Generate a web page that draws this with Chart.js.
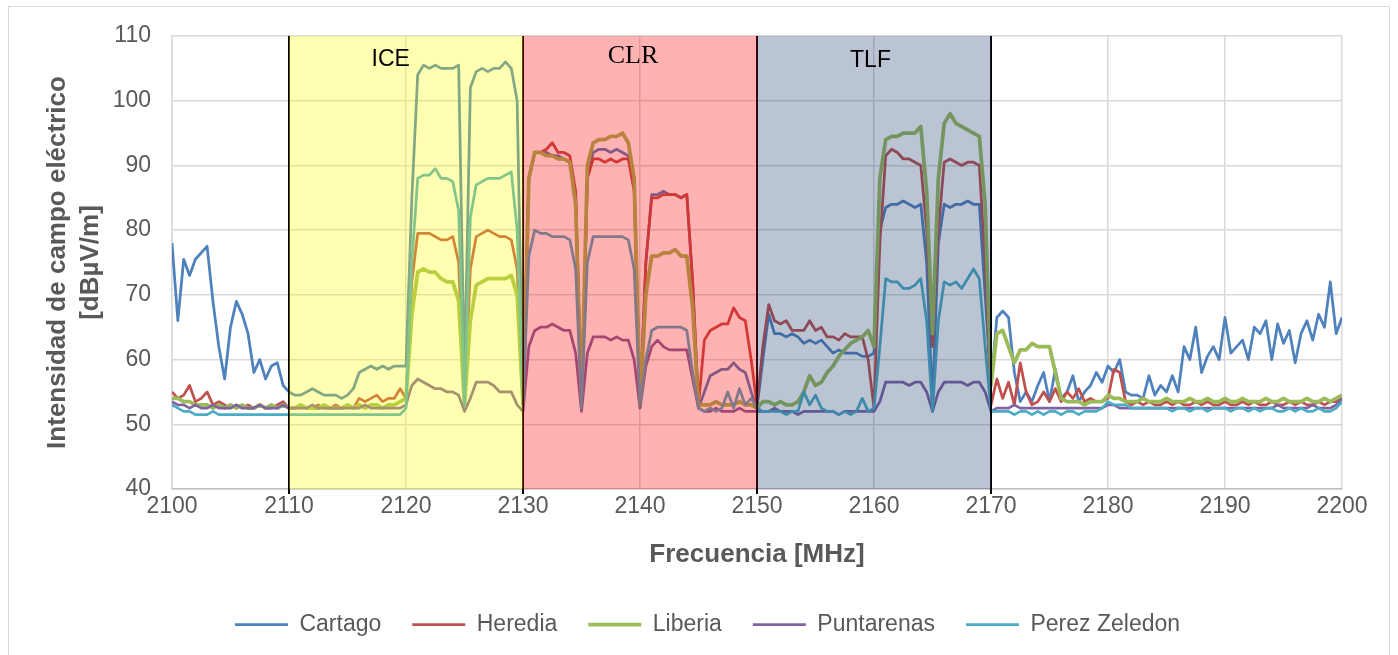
<!DOCTYPE html>
<html>
<head>
<meta charset="utf-8">
<script src="https://cdn.jsdelivr.net/npm/chart.js@4.4.1/dist/chart.umd.min.js"></script>
<style>
  html, body { margin: 0; padding: 0; background: #fff; }
  canvas { display: block; }
</style>
</head>
<body>
<canvas id="espectro" width="1398" height="655"></canvas>
<script>
// frecuencias: 2100 -> 2200 MHz, paso 0.5 MHz
const freqStart = 2100;
const freqStep = 0.5;

const cartago = [
  78, 66, 75.5, 73, 75.5, 76.5, 77.5, 69, 62, 57, 65, 69, 67, 64, 58, 60, 57, 59, 59.5, 56,
  55, 54.5, 54.5, 55, 55.5, 55, 54.5, 54.5, 54.5, 54, 54.5, 55.5, 58, 58.5, 59, 58.5, 59, 58.5, 59, 59,
  59, 85, 104, 105.5, 105, 105.5, 105, 105, 105, 105.5, 57, 102, 104.5, 105, 104.5, 105, 105, 106, 105, 100,
  53, 88, 92, 92, 92, 91.5, 91.5, 91, 90.5, 85, 53, 88, 92, 92.5, 92.5, 92, 92.5, 92, 91.5, 88,
  53, 75, 85.5, 85.5, 86, 85.5, 85.5, 85, 85.5, 72, 52.5, 55, 57.5, 58, 58.5, 58.5, 59.5, 58.5, 58, 55,
  52.5, 60, 67, 64, 64, 63.5, 64, 63.5, 62.5, 63, 62.5, 63, 62, 61, 61.5, 61, 61, 61, 60.5, 60.5,
  61, 80, 83.5, 84, 84, 84.5, 84, 83.5, 84, 75, 53, 78, 84, 83.5, 84, 84, 84.5, 84, 84, 70,
  56, 66.5, 67.5, 66.5, 58, 53.5, 55, 53.5, 56, 58, 53.5, 58.5, 54, 55, 57.5, 53.5, 55, 56, 58, 56.5,
  59, 58, 60, 55, 54.5, 54.5, 54, 57.5, 54.5, 56, 55, 57.5, 55, 62, 60, 65, 58, 60.5, 62, 60,
  66.5, 61, 62, 63, 60, 65, 64, 66, 60, 65.5, 62.5, 64.5, 59.5, 64, 66, 63, 67, 65, 72, 64,
  66.5
];
const heredia = [
  55, 54, 54.5, 56, 53.5, 54, 55, 53, 53.5, 53, 52.5, 53, 52.5, 53, 52.5, 53, 52.5, 52.5, 53, 53.5,
  52.5, 52.5, 53, 52.5, 52.5, 53, 52.5, 52.5, 53, 52.5, 53, 52.5, 54, 53.5, 54, 54.5, 53.5, 54, 54, 55.5,
  54, 72, 79.5, 79.5, 79.5, 79, 78.5, 78.5, 79, 75, 53, 74, 79, 79.5, 80, 79.5, 79, 79, 78.5, 74,
  53, 88, 92, 92, 92.5, 93.5, 92, 92, 91.5, 86, 53, 88, 91, 91, 90.5, 91, 90.5, 91, 91, 86,
  53, 75, 85, 85, 85.5, 85.5, 85.5, 85, 85.5, 72, 53, 63, 64.5, 65, 65.5, 65.5, 68, 66.5, 66, 60,
  53, 62, 68.5, 66, 65.5, 66, 64.5, 64.5, 64.5, 66, 64.5, 65, 63.5, 63.5, 63, 64, 63.5, 63.5, 63.5, 60,
  52.5, 78, 91.5, 92.5, 92, 91, 91, 90.5, 90, 80, 62, 80, 90.5, 91, 90.5, 90, 90.5, 90.5, 90, 75,
  53, 57, 54, 56.5, 53, 59.5, 55, 53, 53.5, 55, 53.5, 55.5, 53.5, 55, 54, 55.5, 53.5, 54, 53.5, 53.5,
  54, 58.5, 58, 53.5, 53, 53.5, 53, 53.5, 53, 53, 53.5, 53, 53.5, 53, 53, 53.5, 53, 53.5, 53, 53,
  53.5, 53, 53, 53.5, 53, 53.5, 53, 53, 53.5, 53, 53, 53.5, 53, 53.5, 53, 53, 53.5, 53, 53.5, 53.5,
  54
];
const liberia = [
  54, 54, 53.5, 53.5, 53, 53, 53, 52.5, 53, 52.5, 53, 52.5, 53, 52.5, 52.5, 53, 52.5, 53, 52.5, 53,
  52.5, 52.5, 53, 52.5, 52.5, 52.5, 53, 52.5, 52.5, 52.5, 53, 52.5, 53, 52.5, 53, 53, 52.5, 53, 53, 53.5,
  54, 67, 73.5, 74, 73.5, 73.5, 72.5, 72, 72, 69, 53, 66, 71.5, 72, 72.5, 72.5, 72.5, 72.5, 73, 70,
  53, 88, 92, 92, 91.5, 91.5, 91, 91, 90.5, 84, 53, 90, 93.5, 94, 94, 94.5, 94.5, 95, 93.5, 88,
  53, 70, 76, 76, 76.5, 76.5, 77, 76, 76, 68, 53, 53, 53, 53.5, 53, 53, 53, 53.5, 53, 53,
  52.5, 53.5, 53.5, 53, 53.5, 53, 53, 53.5, 55, 57.5, 56, 56.5, 58, 59, 60.5, 61.5, 62.5, 63, 63.5, 64.5,
  62, 88, 94, 94.5, 94.5, 95, 95, 95, 96, 86, 64, 88, 96.5, 98, 96.5, 96, 95.5, 95, 94.5, 84,
  56, 64, 64.5, 62, 59.5, 61.5, 61.5, 62.5, 62, 62, 62, 58, 54, 53.5, 53.5, 53.5, 53, 53.5, 53.5, 53.5,
  54.5, 54, 54, 53.5, 53.5, 53.5, 54, 53.5, 53.5, 53.5, 54, 53.5, 53.5, 53.5, 54, 53.5, 53.5, 54, 53.5, 53.5,
  54, 53.5, 53.5, 54, 53.5, 53.5, 53.5, 54, 53.5, 53.5, 54, 53.5, 53.5, 53.5, 54, 53.5, 53.5, 54, 53.5, 54,
  54.5
];
const puntarenas = [
  53.5, 53, 53, 52.5, 53, 52.5, 52.5, 53, 52.5, 52.5, 52.5, 53, 52.5, 52.5, 52.5, 53, 52.5, 52.5, 52.5, 53,
  52.5, 52.5, 52.5, 52.5, 53, 52.5, 52.5, 52.5, 52.5, 52.5, 52.5, 52.5, 52.5, 53, 52.5, 52.5, 52.5, 52.5, 52.5, 52.5,
  53, 56, 57, 56.5, 56, 55.5, 55.5, 55, 55, 54.5, 52, 54, 56.5, 56.5, 56.5, 56, 55, 55, 55, 53,
  52, 62, 64.5, 65, 65, 65.5, 65, 64.5, 64.5, 61, 52, 61, 63.5, 63.5, 63.5, 63, 63.5, 63, 63, 60,
  52.5, 59, 62, 63, 62, 61.5, 61.5, 61.5, 61.5, 57, 52.5, 52, 52, 52.5, 52, 52, 52, 52.5, 52, 52,
  52, 52, 52, 52.5, 52, 52, 52, 51.5, 52, 52, 52, 52, 52, 52, 51.5, 52, 52, 52, 52, 52,
  52, 53.5, 56.5, 56.5, 56.5, 56.5, 56, 56.5, 56.5, 55, 52, 55, 56.5, 56.5, 56.5, 56.5, 56, 56.5, 56.5, 55,
  52, 52.5, 52.5, 52.5, 53, 52.5, 52.5, 52.5, 52.5, 52.5, 52.5, 52.5, 52.5, 52.5, 52.5, 52.5, 52.5, 52.5, 52.5, 52.5,
  53, 53, 52.5, 52.5, 52.5, 52.5, 52.5, 52.5, 52.5, 52.5, 52.5, 52.5, 52.5, 52.5, 52.5, 52.5, 52.5, 52.5, 52.5, 52.5,
  52.5, 52.5, 52.5, 52.5, 52.5, 52.5, 52.5, 52.5, 52.5, 53, 52.5, 52.5, 52.5, 52.5, 52.5, 53, 52.5, 52.5, 52.5, 53,
  54
];
const perezZeledon = [
  53, 52.5, 52, 52, 51.5, 51.5, 51.5, 52, 51.5, 51.5, 51.5, 51.5, 51.5, 51.5, 51.5, 51.5, 51.5, 51.5, 51.5, 51.5,
  51.5, 51.5, 51.5, 51.5, 51.5, 51.5, 51.5, 51.5, 51.5, 51.5, 51.5, 51.5, 51.5, 51.5, 51.5, 51.5, 51.5, 51.5, 51.5, 51.5,
  52.5, 75, 88, 88.5, 88.5, 89.5, 88, 88, 87.5, 83, 53, 82, 87, 87.5, 88, 88, 88, 88.5, 89, 80,
  53, 76, 80, 79.5, 79.5, 79, 79, 79, 78.5, 74, 52.5, 75, 79, 79, 79, 79, 79, 79, 78.5, 74,
  53, 60, 64.5, 65, 65, 65, 65, 65, 64.5, 58, 52.5, 52, 52.5, 52, 52.5, 55, 52.5, 55.5, 53, 54,
  52.5, 52, 52, 52, 52, 51.5, 52, 52, 55, 53, 54.5, 52.5, 52, 52, 51.5, 52, 51.5, 52, 54, 52,
  52.5, 62, 72.5, 72, 72, 71, 71, 71.5, 72.5, 66, 52, 66, 72, 71.5, 72, 71, 72.5, 74, 72.5, 62,
  52, 52, 52, 52, 51.5, 52, 52, 51.5, 52, 51.5, 52, 52, 51.5, 52, 52, 51.5, 52, 52, 52, 52.5,
  53.5, 53, 53, 53, 52.5, 52.5, 52.5, 52.5, 52.5, 52.5, 52.5, 52, 52.5, 52.5, 52, 52.5, 52.5, 52, 52.5, 52.5,
  52.5, 52, 52.5, 52.5, 52, 52.5, 52, 52.5, 52.5, 52, 52, 52.5, 52, 52.5, 52, 52, 52.5, 52, 52, 52.5,
  53.5
];

const seriesNames = ['Cartago', 'Heredia', 'Liberia', 'Puntarenas', 'Perez Zeledon'];
const seriesColors = ['#4f81bd', '#c0504d', '#9bbb59', '#8064a2', '#4bacc6'];
const seriesWidths = [2.75, 2.75, 3.75, 2.75, 2.75];

// bandas de operadores
const bandNames = ['ICE', 'CLR', 'TLF'];
const bandStart = [2110, 2130, 2150];
const bandEnd = [2130, 2150, 2170];
const bandColors = ['rgba(255,255,0,0.3)', 'rgba(255,0,0,0.3)', 'rgba(30,60,110,0.3)'];
const bandFonts = ['23px "Liberation Sans", Arial', '26px "Liberation Serif", serif', '23px "Liberation Sans", Arial'];
const bandLabelX = [2118.7, 2139.4, 2159.7];
const bandLabelY = [106.3, 106.9, 106.2];

const freqs = cartago.map((v, i) => freqStart + i * freqStep);
const allSeries = [cartago, heredia, liberia, puntarenas, perezZeledon];

const textColor = '#595959';
Chart.defaults.font.family = '"Liberation Sans", Arial, sans-serif';

const bandPlugin = {
	id: 'bandas',
	beforeDraw(chart) {
		const ctx = chart.ctx;
		ctx.save();
		ctx.fillStyle = '#ffffff';
		ctx.fillRect(0, 0, chart.width, chart.height);
		ctx.strokeStyle = '#d9d9d9';
		ctx.lineWidth = 1;
		ctx.strokeRect(8.5, 6.5, chart.width - 17, chart.height + 20);
		ctx.restore();
	},
	afterDatasetsDraw(chart) {
		const {ctx, chartArea, scales} = chart;
		const x = scales.x;
		const y = scales.y;
		ctx.save();
		// lineas negras de separacion
		ctx.strokeStyle = '#000000';
		ctx.lineWidth = 2;
		const edges = bandStart.concat([bandEnd[bandEnd.length - 1]]);
		edges.forEach((f) => {
			const px = Math.round(x.getPixelForValue(f));
			ctx.beginPath();
			ctx.moveTo(px, chartArea.top);
			ctx.lineTo(px, chartArea.bottom + 5);
			ctx.stroke();
		});
		// bandas semitransparentes encima de las curvas
		bandNames.forEach((name, i) => {
			const x0 = x.getPixelForValue(bandStart[i]);
			const x1 = x.getPixelForValue(bandEnd[i]);
			ctx.fillStyle = bandColors[i];
			ctx.fillRect(x0, chartArea.top, x1 - x0, chartArea.bottom - chartArea.top);
		});
		// etiquetas
		ctx.fillStyle = '#000000';
		ctx.textAlign = 'center';
		ctx.textBaseline = 'middle';
		bandNames.forEach((name, i) => {
			ctx.font = bandFonts[i];
			ctx.fillText(name, x.getPixelForValue(bandLabelX[i]), y.getPixelForValue(bandLabelY[i]));
		});
		ctx.restore();
	}
};

new Chart(document.getElementById('espectro'), {
	type: 'line',
	data: {
		datasets: seriesNames.map((name, k) => ({
			label: name,
			data: allSeries[k].map((v, i) => ({x: freqs[i], y: v})),
			borderColor: seriesColors[k],
			backgroundColor: seriesColors[k],
			borderWidth: seriesWidths[k],
			pointRadius: 0,
			tension: 0,
			borderJoinStyle: 'round',
			order: seriesNames.length - k
		}))
	},
	options: {
		responsive: false,
		animation: false,
		events: [],
		layout: {
			padding: {left: 17, right: 0, top: 36, bottom: 9}
		},
		plugins: {
			legend: {
				position: 'bottom',
				labels: {
					usePointStyle: true,
					pointStyle: 'line',
					pointStyleWidth: 53,
					padding: 31,
					color: textColor,
					font: {size: 23},
					sort: (a, b) => a.datasetIndex - b.datasetIndex
				}
			},
			tooltip: {enabled: false}
		},
		scales: {
			x: {
				type: 'linear',
				min: 2100,
				max: 2200,
				ticks: {
					stepSize: 10,
					color: textColor,
					font: {size: 23},
					padding: 4,
					maxRotation: 0,
					callback: (v) => String(v)
				},
				grid: {color: '#d9d9d9', lineWidth: 1.5, drawTicks: false},
				border: {color: '#bfbfbf', width: 1.5},
				title: {
					display: true,
					text: 'Frecuencia [MHz]',
					color: textColor,
					font: {size: 26, weight: 'bold'},
					padding: {top: 0, bottom: 12}
				},
				afterFit: (s) => { s.height = 93; }
			},
			y: {
				min: 40,
				max: 110,
				ticks: {
					stepSize: 10,
					color: textColor,
					font: {size: 23},
					padding: 21,
					callback: (v) => String(v)
				},
				grid: {color: '#d9d9d9', lineWidth: 1.5, drawTicks: false},
				border: {color: '#d9d9d9', width: 1.5},
				title: {
					display: true,
					text: ['Intensidad de campo eléctrico', '[dBµV/m]'],
					color: textColor,
					font: {size: 26, weight: 'bold', lineHeight: 1.25},
					padding: {top: 25, bottom: 0}
				},
				afterFit: (s) => { s.width = 155; }
			},
			// margen derecho vacio (para centrar la leyenda como en el original)
			margen: {
				type: 'linear',
				position: 'right',
				display: true,
				grid: {display: false},
				ticks: {display: false},
				border: {display: false},
				afterFit: (s) => { s.width = 56; }
			}
		}
	},
	plugins: [bandPlugin]
});
</script>
</body>
</html>
